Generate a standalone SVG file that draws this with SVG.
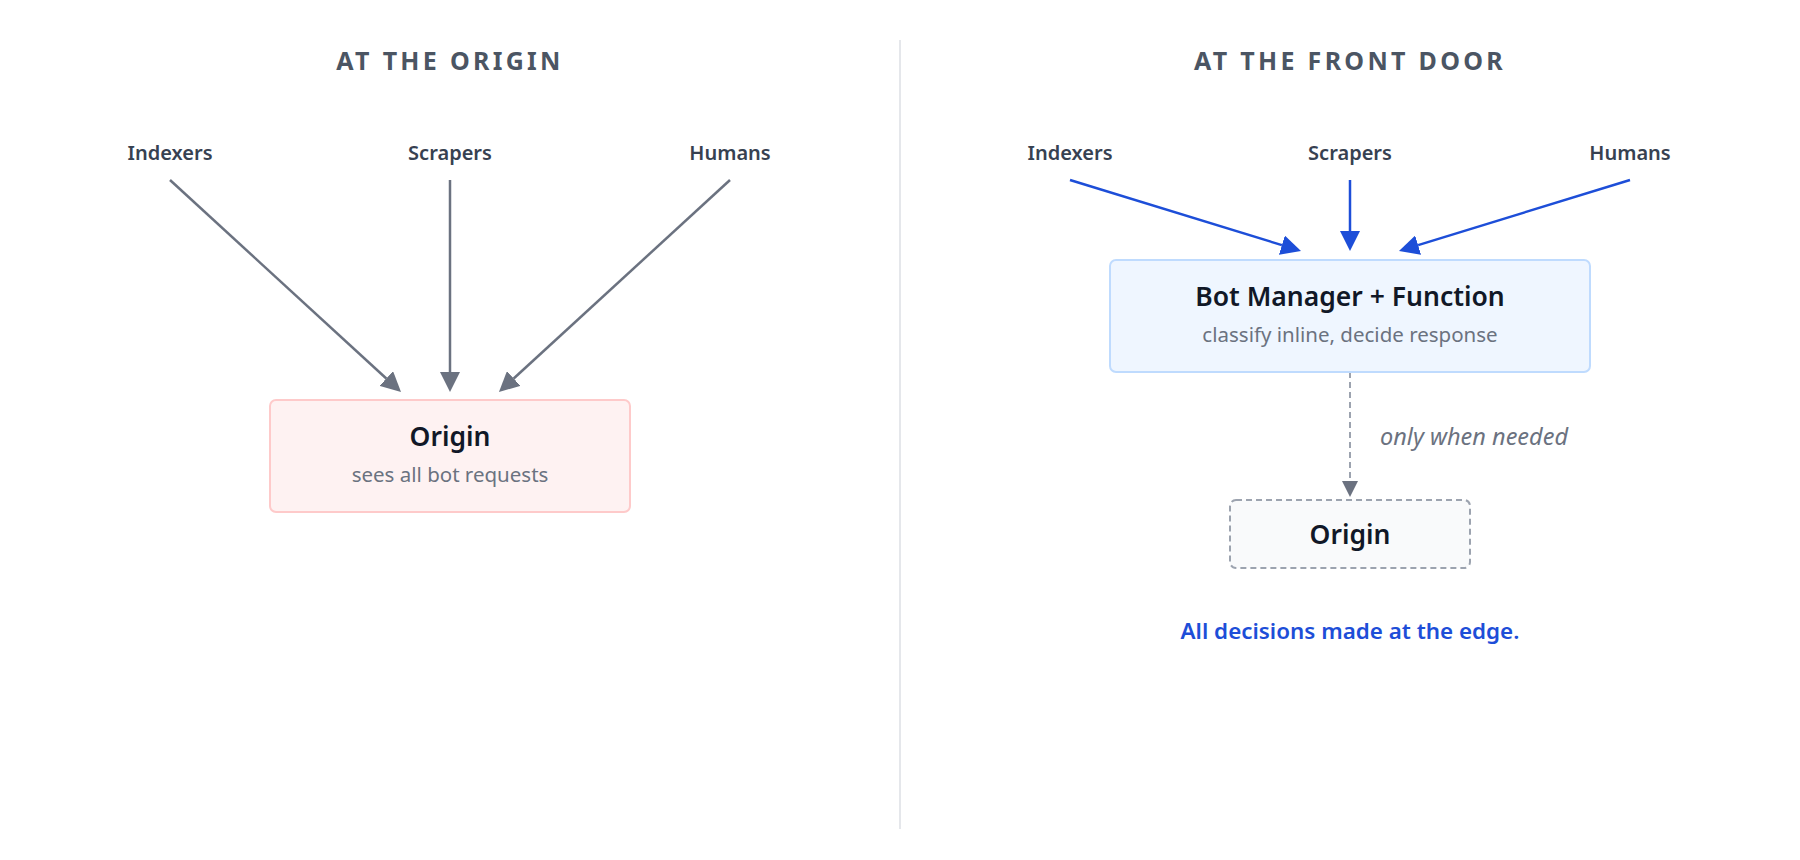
<svg xmlns="http://www.w3.org/2000/svg" width="1800" height="860" viewBox="0 0 1800 860">
<defs>
<style>
text{font-family:"Noto Sans","Open Sans","Liberation Sans",sans-serif;text-anchor:middle}
.title{font-size:25px;font-weight:700;fill:#4b5563;letter-spacing:3.3px}
.src{font-size:20px;font-weight:600;fill:#374151}
.nt{font-size:26.5px;font-weight:600;fill:#111827}
.ns{font-size:20.5px;fill:#6b7280}
.gray{stroke:#6b7280;stroke-width:2.5;fill:none}
.blue{stroke:#1d4ed8;stroke-width:2.5;fill:none}
.dash{stroke:#9ca3af;stroke-width:2;stroke-dasharray:6 4;fill:none}
</style>
<marker id="ag" markerUnits="userSpaceOnUse" markerWidth="20" markerHeight="20" refX="0" refY="10" orient="auto"><path d="M0,0 L20,10 L0,20 z" fill="#6b7280"/></marker>
<marker id="ab" markerUnits="userSpaceOnUse" markerWidth="20" markerHeight="20" refX="0" refY="10" orient="auto"><path d="M0,0 L20,10 L0,20 z" fill="#1d4ed8"/></marker>
<marker id="as" markerUnits="userSpaceOnUse" markerWidth="16" markerHeight="16" refX="0" refY="8" orient="auto"><path d="M0,0 L16,8 L0,16 z" fill="#6b7280"/></marker>
</defs>
<rect width="1800" height="860" fill="#ffffff"/>
<line x1="900" y1="40" x2="900" y2="829" stroke="#e5e7eb" stroke-width="2"/>
<text class="title" x="450" y="70">AT THE ORIGIN</text>
<text class="title" x="1350" y="70">AT THE FRONT DOOR</text>
<g id="connectors">
<line class="gray" x1="170" y1="180" x2="386.3" y2="378.5" marker-end="url(#ag)"/>
<line class="gray" x1="450" y1="180" x2="450" y2="372" marker-end="url(#ag)"/>
<line class="gray" x1="730" y1="180" x2="513.7" y2="378.5" marker-end="url(#ag)"/>
<line class="blue" x1="1070" y1="180" x2="1281.9" y2="245.1" marker-end="url(#ab)"/>
<line class="blue" x1="1350" y1="180" x2="1350" y2="231" marker-end="url(#ab)"/>
<line class="blue" x1="1630" y1="180" x2="1418.1" y2="245.1" marker-end="url(#ab)"/>
<line class="dash" x1="1350" y1="372" x2="1350" y2="481" marker-end="url(#as)"/>
<text x="1380" y="445" style="text-anchor:start;font-size:23.5px;font-style:italic;fill:#6b7280">only when needed</text>
</g>
<g id="left-indexers"><text class="src" x="170" y="160">Indexers</text></g>
<g id="left-scrapers"><text class="src" x="450" y="160">Scrapers</text></g>
<g id="left-humans"><text class="src" x="730" y="160">Humans</text></g>
<g id="left-origin">
<rect x="270" y="400" width="360" height="112" rx="6" fill="#fef2f2" stroke="#fecaca" stroke-width="2"/>
<text class="nt" x="450" y="446">Origin</text>
<text class="ns" x="450" y="482">sees all bot requests</text>
</g>
<g id="right-indexers"><text class="src" x="1070" y="160">Indexers</text></g>
<g id="right-scrapers"><text class="src" x="1350" y="160">Scrapers</text></g>
<g id="right-humans"><text class="src" x="1630" y="160">Humans</text></g>
<g id="bot-manager">
<rect x="1110" y="260" width="480" height="112" rx="6" fill="#eff6ff" stroke="#bfdbfe" stroke-width="2"/>
<text class="nt" x="1350" y="306">Bot Manager + Function</text>
<text class="ns" x="1350" y="342">classify inline, decide response</text>
</g>
<g id="right-origin">
<rect x="1230" y="500" width="240" height="68" rx="6" fill="#f9fafb" stroke="#9ca3af" stroke-width="2" stroke-dasharray="6 4"/>
<text class="nt" x="1350" y="544">Origin</text>
</g>
<g id="note"><text x="1350" y="639" style="font-size:22.4px;font-weight:600;fill:#1d4ed8">All decisions made at the edge.</text></g>
</svg>
